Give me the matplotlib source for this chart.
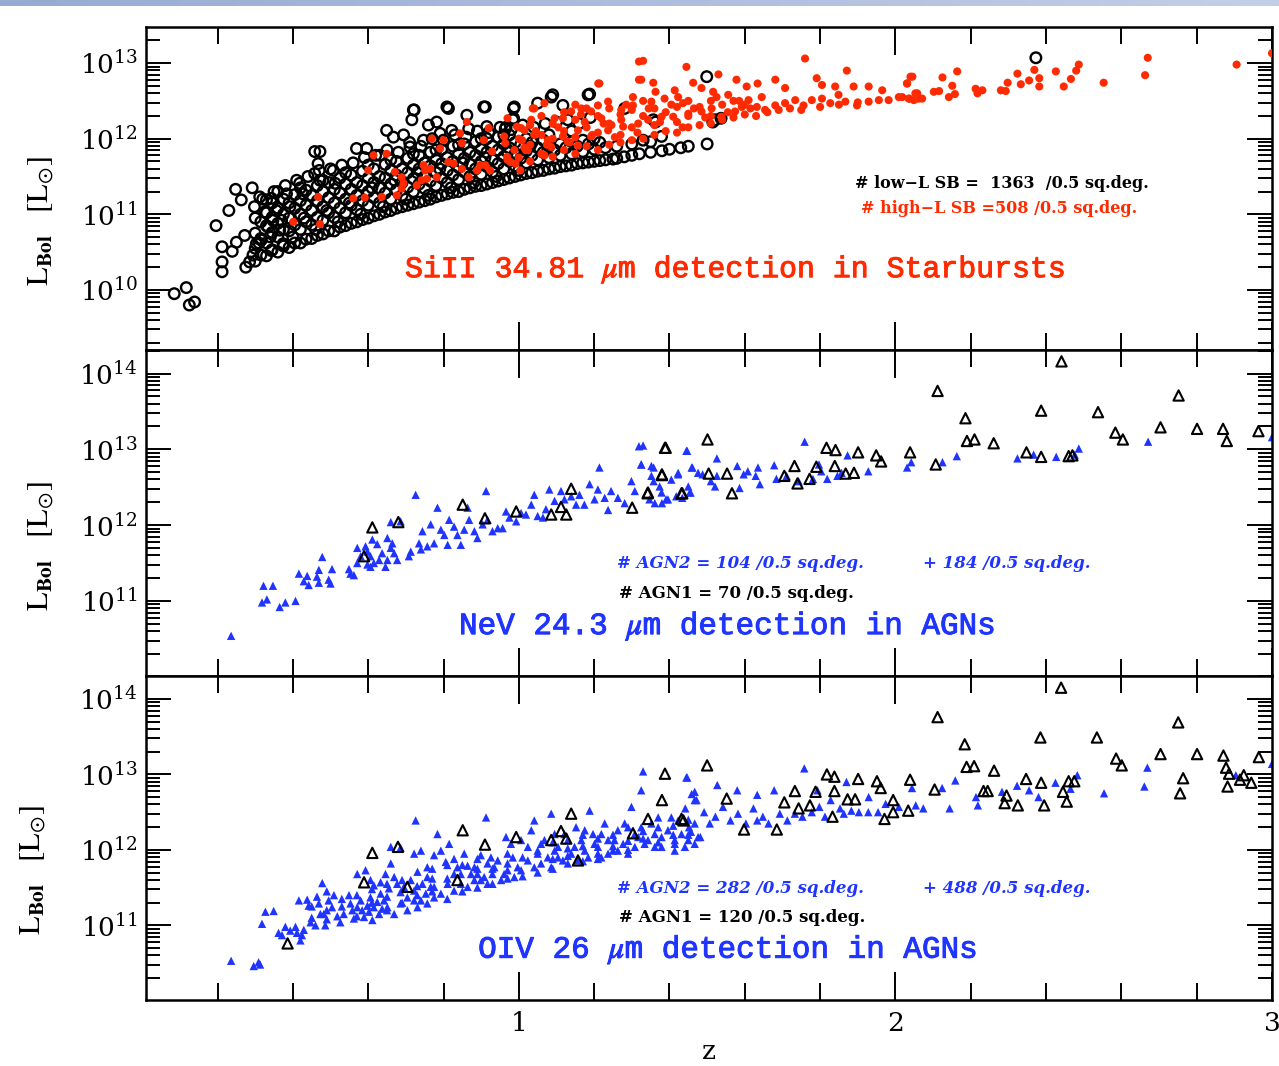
import numpy as np
import matplotlib
matplotlib.use("Agg")
import matplotlib.pyplot as plt
import matplotlib.patheffects as pe
from matplotlib.ticker import FixedLocator, NullFormatter, LogLocator, LogFormatterMathtext

plt.rcParams['font.family'] = ['DejaVu Serif']
plt.rcParams['mathtext.fontset'] = 'stix'

# --- data: (z, log10 L_Bol) ---
# SiII 34.81um, low-L starbursts (open black circles)
sb_low = [
    (0.085, 9.95), (0.117, 10.03), (0.125, 9.80), (0.139, 9.84), (0.196, 10.85), (0.230, 11.05),
    (0.248, 11.33), (0.263, 11.19), (0.292, 11.35), (0.212, 10.57), (0.212, 10.37), (0.212, 10.24),
    (0.239, 10.51), (0.250, 10.63), (0.272, 10.72), (0.275, 10.30), (0.285, 10.37), (0.294, 10.46),
    (0.303, 10.61), (0.298, 11.10), (0.312, 11.23), (0.325, 11.03), (0.334, 10.83), (0.347, 10.92),
    (0.343, 10.52), (0.316, 10.66), (0.330, 11.19), (0.343, 11.21), (0.356, 11.05), (0.365, 10.79),
    (0.374, 10.61), (0.383, 11.27), (0.392, 11.10), (0.418, 11.41), (0.427, 11.27), (0.458, 11.83),
    (0.472, 11.83), (0.467, 11.67), (0.458, 11.54), (0.472, 11.45), (0.507, 11.58), (0.512, 11.41),
    (0.569, 11.87), (0.596, 11.87), (0.631, 11.78), (0.649, 12.11), (0.667, 12.02), (0.694, 12.05),
    (0.720, 12.38), (0.716, 12.25), (0.760, 12.18), (0.782, 12.22), (0.813, 12.40), (0.862, 12.31),
    (0.911, 12.42), (0.915, 12.16), (0.986, 12.40), (0.986, 12.27), (0.964, 12.13), (0.867, 12.13),
    (0.822, 12.11), (0.791, 12.07), (0.747, 11.98), (0.711, 11.89), (1.090, 12.58), (1.188, 12.59),
    (0.988, 12.42), (0.984, 12.25), (0.966, 12.15), (1.050, 12.47), (1.117, 12.44), (1.281, 12.40),
    (1.357, 12.25), (1.521, 12.25), (1.330, 11.98), (1.379, 12.03), (1.499, 12.82), (1.515, 12.22),
    (1.537, 12.27), (1.363, 12.22), (1.086, 12.55), (1.184, 12.58), (0.907, 12.42), (0.809, 12.42),
    (0.722, 12.38), (2.373, 13.07),
    # dense band
    (0.30, 10.38), (0.30, 10.55), (0.30, 10.75), (0.30, 10.95),
    (0.33, 10.45), (0.33, 10.62), (0.33, 10.85), (0.33, 11.02),
    (0.36, 10.50), (0.36, 10.70), (0.36, 10.88), (0.36, 11.08), (0.36, 11.30),
    (0.39, 10.56), (0.39, 10.78), (0.39, 10.95), (0.39, 11.15),
    (0.42, 10.62), (0.42, 10.80), (0.42, 11.00), (0.42, 11.18), (0.42, 11.35),
    (0.45, 10.68), (0.45, 10.86), (0.45, 11.05), (0.45, 11.25),
    (0.48, 10.74), (0.48, 10.92), (0.48, 11.10), (0.48, 11.30), (0.48, 11.45),
    (0.51, 10.78), (0.51, 10.96), (0.51, 11.15), (0.51, 11.33),
    (0.54, 10.85), (0.54, 11.02), (0.54, 11.20), (0.54, 11.40), (0.54, 11.55),
    (0.57, 10.90), (0.57, 11.06), (0.57, 11.25), (0.57, 11.42),
    (0.60, 10.95), (0.60, 11.12), (0.60, 11.30), (0.60, 11.48), (0.60, 11.65),
    (0.63, 11.00), (0.63, 11.15), (0.63, 11.35), (0.63, 11.50),
    (0.66, 11.05), (0.66, 11.20), (0.66, 11.40), (0.66, 11.58), (0.66, 11.72),
    (0.69, 11.10), (0.69, 11.25), (0.69, 11.42), (0.69, 11.60),
    (0.72, 11.14), (0.72, 11.30), (0.72, 11.47), (0.72, 11.65), (0.72, 11.80),
    (0.75, 11.18), (0.75, 11.34), (0.75, 11.50), (0.75, 11.68),
    (0.78, 11.23), (0.78, 11.38), (0.78, 11.55), (0.78, 11.72), (0.78, 11.85),
    (0.81, 11.27), (0.81, 11.42), (0.81, 11.58), (0.81, 11.75),
    (0.84, 11.30), (0.84, 11.46), (0.84, 11.62), (0.84, 11.80), (0.84, 11.92),
    (0.87, 11.35), (0.87, 11.50), (0.87, 11.66), (0.87, 11.82),
    (0.90, 11.38), (0.90, 11.53), (0.90, 11.70), (0.90, 11.86), (0.90, 12.00),
    (0.93, 11.42), (0.93, 11.56), (0.93, 11.72), (0.93, 11.90),
    (0.96, 11.46), (0.96, 11.60), (0.96, 11.76), (0.96, 11.93), (0.96, 12.05),
    (0.99, 11.50), (0.99, 11.64), (0.99, 11.80), (0.99, 11.95),
    (1.02, 11.54), (1.02, 11.68), (1.02, 11.84), (1.02, 12.00),
    (1.05, 11.57), (1.05, 11.72), (1.05, 11.88),
    (1.08, 11.60), (1.08, 11.75), (1.08, 11.90), (1.08, 12.05),
    (1.11, 11.63), (1.11, 11.78), (1.11, 11.93),
    (1.14, 11.65), (1.14, 11.80), (1.14, 11.96), (1.14, 12.10),
    (1.17, 11.68), (1.17, 11.83), (1.17, 11.98),
    (1.20, 11.70), (1.20, 11.86), (1.20, 12.00),
    (1.23, 11.72), (1.23, 11.88), (1.26, 11.74), (1.26, 11.90),
    (1.30, 11.78), (1.30, 11.93), (1.35, 11.82), (1.35, 11.96),
    (1.40, 11.86), (1.45, 11.90),
    (0.315, 10.46), (0.315, 10.68), (0.315, 10.90),
    (0.345, 10.53), (0.345, 10.76), (0.345, 10.96), (0.345, 11.15),
    (0.375, 10.58), (0.375, 10.80), (0.375, 11.00), (0.375, 11.20),
    (0.405, 10.62), (0.405, 10.86), (0.405, 11.08), (0.405, 11.26),
    (0.435, 10.67), (0.435, 10.90), (0.435, 11.12), (0.435, 11.32),
    (0.465, 10.72), (0.465, 10.96), (0.465, 11.18), (0.465, 11.38),
    (0.495, 10.78), (0.495, 11.02), (0.495, 11.22), (0.495, 11.42),
    (0.525, 10.83), (0.525, 11.08), (0.525, 11.28), (0.525, 11.48),
    (0.555, 10.88), (0.555, 11.12), (0.555, 11.33), (0.555, 11.52),
    (0.585, 10.93), (0.585, 11.18), (0.585, 11.38), (0.585, 11.57),
    (0.615, 10.98), (0.615, 11.22), (0.615, 11.42), (0.615, 11.60),
    (0.645, 11.03), (0.645, 11.28), (0.645, 11.48), (0.645, 11.66),
    (0.675, 11.08), (0.675, 11.32), (0.675, 11.52), (0.675, 11.70),
    (0.705, 11.12), (0.705, 11.36), (0.705, 11.55), (0.705, 11.74),
    (0.735, 11.16), (0.735, 11.40), (0.735, 11.60), (0.735, 11.78),
    (0.765, 11.20), (0.765, 11.44), (0.765, 11.64), (0.765, 11.82),
    (0.795, 11.25), (0.795, 11.48), (0.795, 11.67), (0.795, 11.86),
    (0.825, 11.29), (0.825, 11.52), (0.825, 11.70), (0.825, 11.90),
    (0.855, 11.33), (0.855, 11.56), (0.855, 11.74), (0.855, 11.93),
    (0.885, 11.37), (0.885, 11.60), (0.885, 11.78), (0.885, 11.96),
    (0.915, 11.40), (0.915, 11.63), (0.915, 11.82), (0.915, 12.00),
    (0.945, 11.44), (0.945, 11.67), (0.945, 11.85), (0.945, 12.02),
    (0.975, 11.48), (0.975, 11.70), (0.975, 11.88), (0.975, 12.05),
    (1.005, 11.52), (1.005, 11.74), (1.005, 11.92),
    (1.035, 11.55), (1.035, 11.78), (1.035, 11.95),
    (1.065, 11.58), (1.065, 11.82), (1.065, 11.98),
    (1.095, 11.61), (1.095, 11.85), (1.125, 11.64), (1.125, 11.88),
    (1.155, 11.67), (1.155, 11.90), (1.185, 11.69), (1.185, 11.93),
    (1.215, 11.71), (1.215, 11.95), (1.25, 11.73), (1.28, 11.76),
    (1.32, 11.80), (1.38, 11.84), (1.43, 11.88), (1.50, 11.93),
    # upper edge of band and in-between circles
    (0.32, 11.20), (0.35, 11.30), (0.38, 11.38), (0.41, 11.45), (0.44, 11.50), (0.47, 11.58),
    (0.50, 11.60), (0.53, 11.65), (0.56, 11.68), (0.59, 11.75), (0.62, 11.78), (0.65, 11.85),
    (0.68, 11.82), (0.71, 11.95), (0.74, 11.90), (0.77, 12.00), (0.80, 11.98), (0.83, 12.05),
    (0.86, 12.02), (0.89, 12.10), (0.92, 12.08), (0.95, 12.15), (0.98, 12.12), (1.01, 12.18),
    (1.04, 12.15), (1.07, 12.20), (1.10, 12.22), (1.13, 12.25), (1.16, 12.20), (1.19, 12.28),
    (0.31, 10.62), (0.34, 10.70), (0.37, 10.92), (0.40, 10.70), (0.43, 10.95), (0.46, 10.80),
    (0.49, 11.05), (0.52, 10.90), (0.55, 11.15), (0.58, 11.00), (0.61, 11.35), (0.64, 11.10),
    (0.67, 11.45), (0.70, 11.20), (0.73, 11.55), (0.76, 11.25), (0.79, 11.60), (0.82, 11.35),
    (0.85, 11.68), (0.88, 11.42), (0.91, 11.75), (0.94, 11.50), (0.97, 11.82), (1.00, 11.58),
    (1.03, 11.90),
]

# SiII 34.81um, high-L starbursts (filled red dots)
sb_high = [
    (0.401, 10.90), (0.472, 10.87), (0.467, 11.23), (0.560, 11.21), (0.591, 11.22), (0.636, 11.23),
    (0.600, 11.58), (0.614, 11.78), (0.649, 11.80), (0.671, 11.56), (0.689, 11.49), (0.694, 11.41),
    (0.689, 11.34), (0.676, 11.25), (0.729, 11.38), (0.742, 11.45), (0.756, 11.47), (0.751, 11.58),
    (0.747, 11.65), (0.765, 11.60), (0.782, 11.49), (0.769, 12.00), (0.800, 11.98), (0.791, 11.87),
    (0.813, 11.69), (0.827, 11.67), (0.849, 11.94), (0.844, 12.07), (0.862, 12.22), (0.849, 11.60),
    (0.867, 11.49), (0.889, 11.58), (0.898, 11.65), (0.907, 11.98), (0.920, 12.14), (0.929, 11.83),
    (0.911, 11.65), (0.924, 11.58), (0.964, 11.94), (0.969, 11.76), (0.978, 11.69), (0.991, 11.67),
    (0.995, 12.16), (1.009, 11.98), (1.004, 11.58), (1.018, 11.85),
    (1.330, 13.03), (1.445, 12.95), (1.530, 12.85), (1.760, 13.06), (1.871, 12.90), (1.214, 12.73),
    (1.325, 12.78), (1.357, 12.74), (1.363, 12.62), (1.463, 12.74), (1.485, 12.67), (1.516, 12.62),
    (1.578, 12.78), (1.605, 12.69), (1.634, 12.73), (1.681, 12.78), (1.707, 12.67), (1.791, 12.80),
    (1.805, 12.71), (1.840, 12.69), (1.889, 12.69), (1.929, 12.69), (1.965, 12.64), (2.040, 12.82),
    (2.031, 12.73), (2.018, 12.55), (2.058, 12.60), (1.414, 12.64), (1.423, 12.55), (1.436, 12.47),
    (1.387, 12.53), (1.352, 12.49), (1.303, 12.55), (1.303, 12.44), (1.272, 12.38), (1.237, 12.49),
    (1.210, 12.44), (1.192, 12.36), (1.166, 12.40), (1.139, 12.36), (1.095, 12.27), (1.041, 12.40),
    (1.068, 12.47), (1.117, 12.27), (1.175, 12.22), (1.219, 12.27), (1.246, 12.18), (1.272, 12.25),
    (1.317, 12.20), (1.343, 12.25), (1.379, 12.29), (1.410, 12.29), (1.450, 12.33), (1.485, 12.36),
    (1.512, 12.40), (1.556, 12.58), (1.592, 12.42), (1.610, 12.51), (1.632, 12.42), (1.654, 12.38),
    (1.681, 12.44), (1.707, 12.47), (1.734, 12.51), (1.756, 12.44), (1.778, 12.51), (1.805, 12.53),
    (1.827, 12.47), (1.849, 12.58), (1.867, 12.49), (1.898, 12.44), (1.929, 12.49), (1.956, 12.51),
    (1.982, 12.51), (2.009, 12.55), (2.036, 12.53), (2.062, 12.53), (1.538, 12.29), (1.574, 12.36),
    (1.006, 12.14), (1.041, 12.05), (1.077, 11.98), (1.117, 12.03), (1.157, 12.11), (1.192, 12.03),
    (1.237, 12.11), (1.277, 12.16), (0.988, 11.85), (1.024, 11.85), (1.068, 11.78), (0.970, 11.72),
    (1.006, 11.98), (1.086, 11.89), (1.130, 11.96), (1.157, 11.91), (0.961, 12.03), (1.033, 12.25),
    (0.970, 12.27), (1.015, 12.11), (1.211, 12.73), (1.319, 13.02), (1.319, 12.78), (1.037, 12.40),
    (2.045, 12.82), (2.031, 12.73), (2.036, 12.53), (2.053, 12.60), (2.049, 12.51), (2.071, 12.53),
    (2.102, 12.62), (2.116, 12.63), (2.125, 12.81), (2.151, 12.70), (2.142, 12.55), (2.158, 12.59),
    (2.164, 12.89), (2.213, 12.66), (2.218, 12.60), (2.231, 12.64), (2.280, 12.64), (2.293, 12.63),
    (2.298, 12.74), (2.324, 12.86), (2.333, 12.72), (2.355, 12.77), (2.369, 12.91), (2.382, 12.80),
    (2.382, 12.69), (2.426, 12.89), (2.447, 12.69), (2.466, 12.79), (2.480, 12.90), (2.487, 12.98),
    (2.553, 12.74), (2.663, 12.84), (2.670, 13.07), (2.906, 12.98), (3.000, 13.13),
    # dense red core
    (1.00, 11.75), (1.00, 12.00), (1.03, 11.70), (1.03, 11.92), (1.03, 12.18), (1.06, 11.80),
    (1.06, 12.05), (1.06, 12.30), (1.09, 11.76), (1.09, 12.00), (1.09, 12.20), (1.12, 11.85),
    (1.12, 12.10), (1.12, 12.35), (1.15, 11.80), (1.15, 12.02), (1.15, 12.25), (1.15, 12.45),
    (1.18, 11.90), (1.18, 12.15), (1.18, 12.40), (1.21, 11.85), (1.21, 12.08), (1.21, 12.30),
    (1.24, 11.92), (1.24, 12.20), (1.24, 12.40), (1.27, 11.95), (1.27, 12.05), (1.27, 12.32),
    (1.30, 11.98), (1.30, 12.15), (1.30, 12.38), (1.33, 12.00), (1.33, 12.30), (1.33, 12.50),
    (1.36, 12.05), (1.36, 12.18), (1.36, 12.40), (1.39, 12.10), (1.39, 12.35), (1.42, 12.08),
    (1.42, 12.22), (1.42, 12.42), (1.45, 12.15), (1.45, 12.30), (1.45, 12.50), (1.48, 12.18),
    (1.48, 12.42), (1.51, 12.20), (1.51, 12.30), (1.51, 12.50), (1.54, 12.25), (1.54, 12.45),
    (1.57, 12.28), (1.57, 12.50), (1.60, 12.32), (1.60, 12.45), (1.63, 12.30), (1.66, 12.35),
    (1.69, 12.38), (1.72, 12.40), (1.75, 12.38), (1.80, 12.42), (1.85, 12.45), (1.90, 12.48),
    (1.015, 11.88), (1.045, 12.10), (1.075, 11.92), (1.105, 12.15), (1.135, 11.95), (1.165, 12.32),
    (1.195, 12.05), (1.225, 12.20), (1.255, 12.02), (1.285, 12.45), (1.315, 12.08), (1.345, 12.40),
    (1.375, 12.22), (1.405, 12.45), (1.435, 12.15), (1.465, 12.40), (1.495, 12.28), (1.525, 12.55),
    (1.555, 12.35), (1.585, 12.50), (1.615, 12.40), (1.645, 12.55),
]

# NeV 24.3um: AGN2 (filled blue triangles) and AGN1 (open black triangles)
nev_agn2 = [
    (0.236, 10.54), (0.318, 10.98), (0.331, 11.02), (0.322, 11.20), (0.347, 11.20), (0.365, 10.92),
    (0.380, 10.98), (0.407, 11.00), (0.416, 11.36), (0.438, 11.33), (0.429, 11.26), (0.442, 11.21),
    (0.464, 11.32), (0.469, 11.41), (0.469, 11.24), (0.495, 11.28), (0.500, 11.23), (0.504, 11.42),
    (0.478, 11.58), (0.549, 11.42), (0.553, 11.36), (0.562, 11.34), (0.571, 11.70), (0.580, 11.59),
    (0.571, 11.50), (0.593, 11.72), (0.598, 11.65), (0.606, 11.59), (0.615, 11.50), (0.629, 11.54),
    (0.637, 11.63), (0.651, 11.54), (0.646, 11.45), (0.660, 11.70), (0.669, 11.63), (0.677, 11.54),
    (0.611, 11.81), (0.624, 11.75), (0.651, 11.83), (0.664, 11.76), (0.606, 11.45), (0.598, 11.48),
    (0.660, 12.04), (0.686, 12.05), (0.726, 12.40), (0.713, 11.65), (0.708, 11.59), (0.735, 11.76),
    (0.740, 11.68), (0.744, 11.92), (0.757, 11.72), (0.766, 12.01), (0.775, 11.76), (0.784, 12.23),
    (0.793, 11.94), (0.802, 11.87), (0.811, 11.74), (0.815, 12.07), (0.828, 11.98), (0.837, 11.87),
    (0.846, 11.74), (0.855, 11.94), (0.864, 12.23), (0.868, 12.07), (0.882, 11.92), (0.890, 11.83),
    (0.904, 12.01), (0.913, 12.45), (0.917, 12.07), (0.930, 11.92), (0.944, 11.96), (0.957, 11.96),
    (0.966, 12.18), (0.975, 12.10), (0.993, 12.05), (1.006, 12.16), (1.019, 12.14), (1.033, 12.27),
    (1.041, 12.40), (1.050, 12.12), (1.064, 12.10), (1.072, 12.21), (1.081, 12.47), (1.095, 12.32),
    (1.112, 12.45), (1.121, 12.34), (1.139, 12.38), (1.152, 12.27), (1.161, 12.40), (1.174, 12.27),
    (1.188, 12.54), (1.201, 12.34), (1.210, 12.47), (1.214, 12.76), (1.228, 12.36), (1.237, 12.20),
    (1.245, 12.45), (1.263, 12.36), (1.281, 12.29), (1.299, 12.58), (1.308, 12.45), (1.325, 12.80),
    (1.330, 13.05), (1.352, 12.78), (1.361, 12.29), (1.379, 12.43), (1.396, 12.34), (1.405, 12.60),
    (1.423, 12.67), (1.445, 12.98), (1.454, 12.43), (1.459, 12.76), (1.476, 12.69), (1.319, 13.04),
    (1.447, 12.98), (1.526, 12.88), (1.759, 13.10), (1.873, 12.92), (2.042, 12.83), (2.031, 12.76),
    (2.125, 12.83), (2.163, 12.91), (2.324, 12.88), (2.367, 12.93), (2.427, 12.90), (2.476, 12.93),
    (2.487, 13.01), (2.671, 13.10), (3.000, 13.16), (1.325, 12.80), (1.358, 12.76), (1.352, 12.65),
    (1.374, 12.51), (1.391, 12.34), (1.347, 12.34), (1.418, 12.38), (1.423, 12.69), (1.450, 12.51),
    (1.456, 12.43), (1.461, 12.76), (1.488, 12.67), (1.510, 12.58), (1.521, 12.51), (1.526, 12.65),
    (1.580, 12.78), (1.586, 12.49), (1.597, 12.67), (1.608, 12.71), (1.629, 12.65), (1.635, 12.76),
    (1.640, 12.54), (1.678, 12.79), (1.684, 12.61), (1.711, 12.65), (1.743, 12.58), (1.781, 12.61),
    (1.797, 12.80), (1.803, 12.71), (1.819, 12.61), (1.846, 12.65), (1.857, 12.69), (1.928, 12.71),
    (1.358, 12.58), (1.380, 12.29), (1.434, 12.36),
]
nev_agn1 = [
    (0.611, 11.97), (0.680, 12.04), (0.589, 11.59), (0.851, 12.27), (0.910, 12.09), (0.993, 12.18),
    (1.086, 12.14), (1.112, 12.24), (1.126, 12.14), (1.139, 12.48), (1.301, 12.23), (1.343, 12.43),
    (1.380, 12.67), (1.388, 13.02), (1.432, 12.42), (1.390, 13.02), (1.501, 13.13), (1.380, 12.66),
    (1.342, 12.42), (1.434, 12.42), (1.504, 12.68), (1.553, 12.68), (1.566, 12.42), (1.705, 12.65),
    (1.732, 12.78), (1.740, 12.55), (1.772, 12.61), (1.790, 12.77), (1.817, 13.02), (1.841, 12.99),
    (1.839, 12.78), (1.868, 12.68), (1.890, 12.69), (1.901, 12.96), (1.949, 12.92), (1.962, 12.84),
    (2.039, 12.96), (2.107, 12.80), (2.112, 13.77), (2.186, 13.41), (2.190, 13.11), (2.210, 13.13),
    (2.261, 13.08), (2.348, 12.96), (2.387, 13.51), (2.387, 12.90), (2.441, 14.16), (2.460, 12.91),
    (2.470, 12.92), (2.538, 13.49), (2.584, 13.22), (2.604, 13.13), (2.704, 13.29), (2.752, 13.71),
    (2.801, 13.27), (2.870, 13.27), (2.880, 13.11), (2.964, 13.24),
]

# OIV 26um: AGN2 (filled blue triangles) and AGN1 (open black triangles)
oiv_agn2 = [
    (0.236, 10.53), (0.296, 10.46), (0.309, 10.51), (0.313, 10.48), (0.318, 11.02), (0.327, 11.18),
    (0.349, 11.19), (0.362, 10.90), (0.371, 10.87), (0.380, 10.98), (0.393, 10.93), (0.407, 10.98),
    (0.411, 10.90), (0.420, 10.80), (0.424, 10.87), (0.429, 10.94), (0.416, 11.33), (0.438, 11.34),
    (0.442, 11.26), (0.447, 11.04), (0.460, 11.00), (0.464, 11.38), (0.469, 11.29), (0.473, 11.15),
    (0.482, 11.15), (0.486, 11.00), (0.495, 11.33), (0.504, 11.24), (0.509, 11.40), (0.478, 11.56),
    (0.518, 11.12), (0.526, 11.04), (0.535, 11.15), (0.549, 11.40), (0.553, 11.29), (0.558, 11.20),
    (0.562, 11.09), (0.571, 11.24), (0.580, 11.33), (0.584, 11.20), (0.589, 11.11), (0.598, 11.26),
    (0.602, 11.18), (0.606, 11.37), (0.611, 11.07), (0.615, 11.24), (0.624, 11.31), (0.629, 11.15),
    (0.633, 11.42), (0.637, 11.22), (0.642, 11.33), (0.571, 11.68), (0.593, 11.73), (0.606, 11.60),
    (0.615, 11.53), (0.633, 11.57), (0.646, 11.68), (0.655, 11.49), (0.660, 11.82), (0.669, 11.64),
    (0.677, 11.55), (0.686, 11.44), (0.695, 11.51), (0.704, 11.37), (0.713, 11.60), (0.722, 11.46),
    (0.731, 11.71), (0.740, 11.33), (0.744, 11.55), (0.753, 11.42), (0.757, 11.64), (0.766, 11.51),
    (0.775, 11.37), (0.660, 12.04), (0.686, 12.03), (0.726, 12.39), (0.722, 11.95), (0.740, 11.99),
    (0.757, 11.77), (0.775, 11.93), (0.784, 12.21), (0.793, 11.99), (0.806, 11.84), (0.815, 12.08),
    (0.828, 11.88), (0.837, 11.77), (0.846, 11.68), (0.855, 11.95), (0.864, 11.79), (0.873, 11.68),
    (0.882, 11.60), (0.890, 11.75), (0.899, 11.93), (0.908, 11.64), (0.913, 12.43), (0.917, 11.82),
    (0.930, 11.68), (0.944, 11.86), (0.953, 11.60), (0.966, 12.17), (0.970, 11.73), (0.984, 11.90),
    (0.997, 11.77), (1.006, 12.13), (1.033, 12.26), (1.041, 12.39), (1.050, 11.99), (1.068, 12.13),
    (1.077, 11.90), (1.086, 12.48), (1.095, 12.21), (1.104, 12.04), (1.117, 11.86), (1.130, 12.13),
    (1.139, 11.95), (1.152, 12.30), (1.166, 12.13), (1.175, 11.99), (1.188, 12.52), (1.197, 12.21),
    (1.210, 12.04), (1.219, 11.90), (1.228, 12.35), (1.237, 12.13), (1.250, 11.99), (1.263, 12.26),
    (1.277, 12.08), (1.290, 11.95), (1.299, 12.57), (1.308, 12.21), (1.325, 12.79), (1.330, 13.04),
    (1.343, 12.13), (1.352, 12.35), (1.361, 12.04), (1.379, 12.17), (1.396, 12.26), (1.405, 12.43),
    (1.414, 12.13), (1.432, 12.21), (1.445, 12.96), (1.459, 12.74), (1.467, 12.35), (1.476, 12.17),
    (1.441, 12.04), (1.414, 11.99), (1.467, 12.66),
    (0.651, 11.24), (0.669, 11.15), (0.686, 11.29), (0.704, 11.20), (0.722, 11.33), (0.731, 11.24),
    (0.757, 11.29), (0.775, 11.51), (0.793, 11.42), (0.811, 11.55), (0.828, 11.46), (0.846, 11.55),
    (0.864, 11.51), (0.899, 11.60), (0.917, 11.55), (0.935, 11.77), (0.961, 11.68), (0.988, 11.64),
    (1.006, 11.73), (1.024, 11.86), (1.041, 11.77), (1.059, 11.82), (1.086, 11.77), (1.104, 11.90),
    (1.130, 11.82), (1.157, 11.86), (1.184, 11.90), (1.210, 11.88), (1.237, 11.95), (1.263, 11.99),
    (1.308, 12.04), (1.334, 12.08), (1.379, 12.04), (1.414, 12.08), (1.450, 12.13), (1.467, 12.08),
    (1.024, 12.04), (1.059, 12.08), (1.095, 11.99), (1.148, 12.04), (1.201, 12.08), (1.254, 12.13),
    (1.317, 12.17), (1.361, 12.21), (0.828, 11.68), (0.882, 11.77), (0.926, 11.90), (0.979, 12.08),
    (1.121, 12.21), (1.175, 12.26), (1.219, 12.21), (1.281, 12.35), (1.325, 12.30), (1.370, 12.43),
    (1.423, 12.39),
    (0.45, 11.10), (0.45, 11.25), (0.49, 11.08), (0.49, 11.20), (0.49, 11.45), (0.53, 11.25),
    (0.53, 11.35), (0.57, 11.12), (0.57, 11.40), (0.61, 11.30), (0.61, 11.48), (0.65, 11.20),
    (0.65, 11.38), (0.65, 11.55), (0.69, 11.30), (0.69, 11.60), (0.73, 11.40), (0.73, 11.52),
    (0.77, 11.45), (0.77, 11.62), (0.77, 11.75), (0.81, 11.35), (0.81, 11.62), (0.81, 11.80),
    (0.85, 11.45), (0.85, 11.80), (0.89, 11.50), (0.89, 11.68), (0.89, 11.88), (0.93, 11.55),
    (0.93, 11.75), (0.97, 11.62), (0.97, 11.82), (0.97, 11.95), (1.01, 11.65), (1.01, 11.90),
    (1.05, 11.70), (1.05, 11.95), (1.09, 11.75), (1.09, 11.88), (1.09, 12.10), (1.13, 11.92),
    (1.13, 12.02), (1.17, 11.85), (1.17, 12.05), (1.17, 12.20), (1.21, 11.95), (1.21, 12.15),
    (1.25, 12.05), (1.25, 12.20), (1.29, 12.00), (1.29, 12.12), (1.29, 12.30), (1.33, 12.15),
    (1.33, 12.25), (1.37, 12.10), (1.37, 12.30), (1.41, 12.20), (1.41, 12.32), (1.45, 12.20),
    (1.45, 12.40),
    (1.447, 12.96), (1.527, 12.86), (1.467, 12.77), (1.580, 12.79), (1.633, 12.73), (1.678, 12.79),
    (1.758, 13.08), (1.793, 12.79), (1.870, 12.90), (1.929, 12.70), (2.044, 12.82), (2.074, 12.55),
    (2.124, 12.82), (2.144, 12.55), (2.159, 12.92), (2.214, 12.70), (2.219, 12.59), (2.283, 12.77),
    (2.323, 12.85), (2.355, 12.79), (2.380, 12.70), (2.425, 12.89), (2.465, 12.81), (2.483, 12.99),
    (2.554, 12.75), (2.661, 12.84), (2.669, 13.09), (2.904, 12.99), (3.000, 13.14),
    (1.442, 12.55), (1.472, 12.66), (1.492, 12.50), (1.522, 12.44), (1.507, 12.35), (1.542, 12.57),
    (1.562, 12.39), (1.582, 12.48), (1.603, 12.35), (1.623, 12.55), (1.633, 12.39), (1.648, 12.44),
    (1.663, 12.35), (1.693, 12.48), (1.713, 12.39), (1.733, 12.48), (1.753, 12.44), (1.778, 12.50),
    (1.798, 12.57), (1.813, 12.44), (1.828, 12.66), (1.853, 12.55), (1.863, 12.48), (1.883, 12.52),
    (1.903, 12.50), (1.928, 12.50), (1.954, 12.50), (1.974, 12.61), (2.009, 12.57), (2.054, 12.59),
    (1.457, 12.24), (1.482, 12.17), (1.452, 12.30),
]
oiv_agn1 = [
    (0.386, 10.76), (0.611, 11.96), (0.679, 12.04), (0.589, 11.57), (0.851, 12.26), (0.910, 12.07),
    (0.837, 11.60), (0.993, 12.17), (1.086, 12.13), (1.112, 12.25), (1.126, 12.15), (1.139, 12.48),
    (1.303, 12.22), (1.343, 12.41), (1.380, 12.66), (1.388, 13.01), (1.432, 12.41), (1.157, 11.86),
    (0.704, 11.51),
    (1.500, 13.12), (1.552, 12.68), (1.437, 12.39), (1.598, 12.27), (1.685, 12.27), (1.733, 12.78),
    (1.705, 12.63), (1.743, 12.55), (1.773, 12.59), (1.788, 12.77), (1.818, 13.00), (1.838, 12.97),
    (1.838, 12.78), (1.873, 12.67), (1.893, 12.67), (1.833, 12.44), (1.901, 12.94), (1.951, 12.91),
    (1.961, 12.82), (1.994, 12.66), (1.994, 12.50), (1.971, 12.41), (2.034, 12.52), (2.039, 12.93),
    (2.104, 12.80), (2.112, 13.76), (2.184, 13.40), (2.189, 13.10), (2.209, 13.11), (2.234, 12.78),
    (2.245, 12.78), (2.262, 13.05), (2.295, 12.72), (2.290, 12.62), (2.325, 12.59), (2.347, 12.94),
    (2.385, 13.49), (2.387, 12.89), (2.395, 12.59), (2.440, 14.15), (2.445, 12.77), (2.455, 12.64),
    (2.460, 12.91), (2.475, 12.91), (2.535, 13.49), (2.586, 13.21), (2.601, 13.12), (2.704, 13.27),
    (2.751, 13.69), (2.764, 12.95), (2.756, 12.75), (2.801, 13.27), (2.871, 13.25), (2.878, 13.09),
    (2.886, 13.01), (2.882, 12.84), (2.915, 12.93), (2.925, 12.99), (2.945, 12.89), (2.965, 13.23),
]

top_counts = ["# low\u2212L SB =  1363  /0.5 sq.deg.", "# high\u2212L SB =508 /0.5 sq.deg."]
nev_counts = ["# AGN2 = 104 /0.5 sq.deg.", "+ 184 /0.5 sq.deg.", "# AGN1 = 70 /0.5 sq.deg."]
oiv_counts = ["# AGN2 = 282 /0.5 sq.deg.", "+ 488 /0.5 sq.deg.", "# AGN1 = 120 /0.5 sq.deg."]
titles = [r"SiII 34.81 $\mu$m detection in Starbursts",
          r"NeV 24.3 $\mu$m detection in AGNs",
          r"OIV 26 $\mu$m detection in AGNs"]

RED = '#ff2a00'
BLUE = '#1f35ff'
TITLE_FONT = 'Liberation Mono'


def xy(pts):
    a = np.array(pts)
    return a[:, 0], 10 ** a[:, 1]


fig = plt.figure(figsize=(12.79, 10.66), dpi=100)

# slide header strip
hdr = fig.add_axes([0, 1 - 6 / 1066, 1, 6 / 1066])
hdr.imshow(np.linspace(0, 1, 256)[None, :], aspect='auto',
           cmap=matplotlib.colors.LinearSegmentedColormap.from_list('h', ['#97abd2', '#c3cfe8']))
hdr.axis('off')

left, width = 146 / 1279, 1126 / 1279
ax1 = fig.add_axes([left, 1 - 350 / 1066, width, 323 / 1066])
ax2 = fig.add_axes([left, 1 - 676 / 1066, width, 326 / 1066], sharex=ax1)
ax3 = fig.add_axes([left, 1 - 1000 / 1066, width, 324 / 1066], sharex=ax1)

x, y = xy(sb_low)
ax1.scatter(x, y, s=58, facecolors='none', edgecolors='black', linewidths=1.7, zorder=2)
x, y = xy(sb_high)
ax1.scatter(x, y, s=34, color=RED, edgecolors='none', zorder=3)

for ax, a2, a1 in [(ax2, nev_agn2, nev_agn1), (ax3, oiv_agn2, oiv_agn1)]:
    x, y = xy(a2)
    ax.scatter(x, y, s=36, marker='^', color=BLUE, edgecolors='none', zorder=2)
    x, y = xy(a1)
    ax.scatter(x, y, s=55, marker='^', facecolors='none', edgecolors='black', linewidths=1.5, zorder=3)

ax1.set_ylim(10 ** 9.205, 10 ** 13.477)
ax2.set_ylim(10 ** 10.01, 10 ** 14.31)
ax3.set_ylim(10 ** 10.01, 10 ** 14.305)

for ax in (ax1, ax2, ax3):
    ax.set_yscale('log')
    ax.set_xlim(0.01, 3.0)
    ax.xaxis.set_major_locator(FixedLocator([1, 2, 3]))
    ax.xaxis.set_minor_locator(FixedLocator(np.arange(0.2, 3.0, 0.2)))
    ax.yaxis.set_major_locator(LogLocator(base=10, numticks=20))
    ax.yaxis.set_minor_locator(LogLocator(base=10, subs=np.arange(2, 10), numticks=20))
    ax.yaxis.set_major_formatter(LogFormatterMathtext())
    ax.yaxis.set_minor_formatter(NullFormatter())
    ax.tick_params(which='both', direction='in', top=True, right=True, width=1.4)
    ax.tick_params(which='major', axis='x', length=20)
    ax.tick_params(which='minor', axis='x', length=12)
    ax.tick_params(which='major', axis='y', length=18)
    ax.tick_params(which='minor', axis='y', length=10)
    ax.tick_params(axis='y', labelsize=19, pad=6)
    for sp in ax.spines.values():
        sp.set_linewidth(1.8)
    ax.set_ylabel(r'$\mathrm{L}_{\mathbf{Bol}}\quad[\mathrm{L}_{\odot}]$', fontsize=22)
    ax.yaxis.set_label_coords(-0.081, 0.40)

ax3.yaxis.set_label_coords(-0.088, 0.40)
ax1.tick_params(axis='x', labelbottom=False)
ax2.tick_params(axis='x', labelbottom=False)
ax3.tick_params(axis='x', labelsize=19, pad=8)
ax3.set_xlabel('z', fontsize=19, labelpad=2)

# annotations
thick = lambda c: [pe.withStroke(linewidth=0.7, foreground=c)]
ax1.text(0.63, 0.50, top_counts[0], transform=ax1.transAxes, fontsize=11.5, weight='bold', color='black')
ax1.text(0.635, 0.425, top_counts[1], transform=ax1.transAxes, fontsize=11.5, weight='bold', color=RED)
ax1.text(0.23, 0.225, titles[0], transform=ax1.transAxes, fontsize=21.5, color=RED, family=TITLE_FONT,
         path_effects=thick(RED))

for ax, cnt, ttl, tx, ty in [(ax2, nev_counts, titles[1], 0.278, 0.128), (ax3, oiv_counts, titles[2], 0.295, 0.13)]:
    ax.text(0.418, 0.33, cnt[0], transform=ax.transAxes, fontsize=12, weight='bold', style='italic', color=BLUE)
    ax.text(0.69, 0.33, cnt[1], transform=ax.transAxes, fontsize=12, weight='bold', style='italic', color=BLUE)
    ax.text(0.42, 0.24, cnt[2], transform=ax.transAxes, fontsize=12, weight='bold', color='black')
    ax.text(tx, ty, ttl, transform=ax.transAxes, fontsize=22.3, color=BLUE, family=TITLE_FONT,
            path_effects=thick(BLUE))

fig.savefig('out.png', dpi=100)
